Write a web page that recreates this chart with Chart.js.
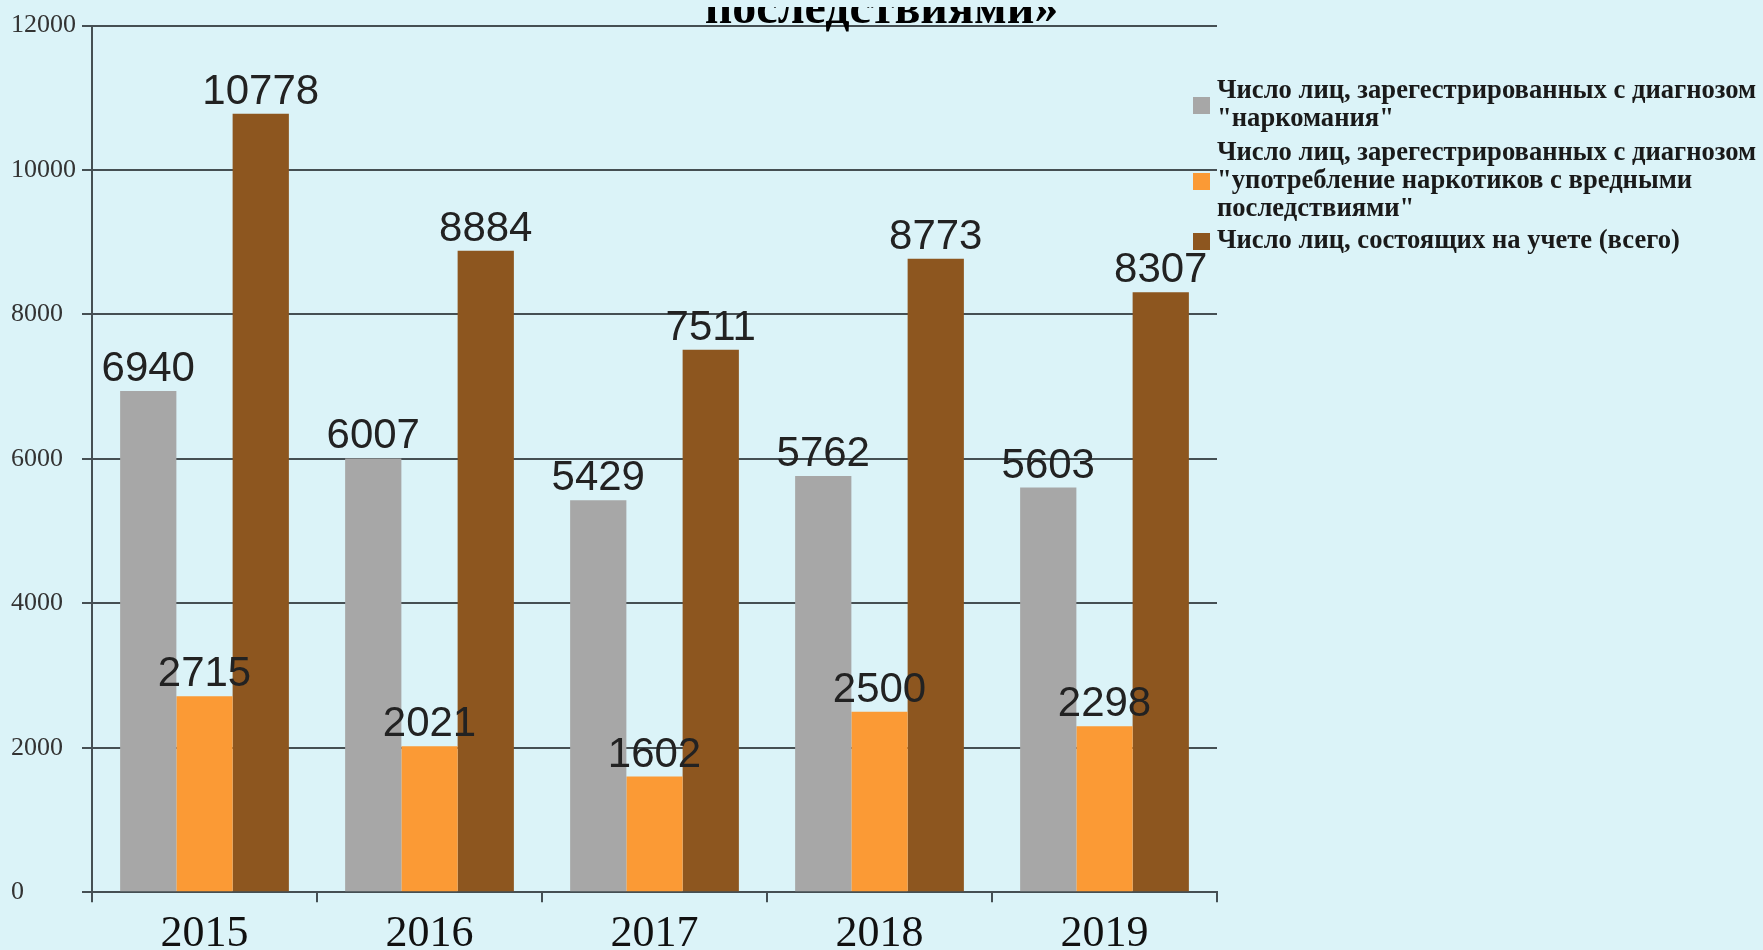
<!DOCTYPE html>
<html>
<head>
<meta charset="utf-8">
<script src="https://cdn.jsdelivr.net/npm/chart.js@4.4.1/dist/chart.umd.min.js"></script>
<style>
  html, body { margin: 0; padding: 0; background: #dbf3f8; overflow: hidden; }
  #wrap { position: absolute; left: 0; top: 7px; width: 1763px; height: 960px; }
</style>
</head>
<body>
<div id="wrap"><canvas id="main_chart"></canvas></div>
<script>
const years = ['2015', '2016', '2017', '2018', '2019'];
const addicts = [6940, 6007, 5429, 5762, 5603];
const harmfulUse = [2715, 2021, 1602, 2500, 2298];
const registeredTotal = [10778, 8884, 7511, 8773, 8307];
const yMin = 0;
const yMax = 12000;
const yStep = 2000;
const titleText = 'последствиями»';
const seriesNames = [
  ['Число лиц, зарегестрированных с диагнозом', '"наркомания"'],
  ['Число лиц, зарегестрированных с диагнозом', '"употребление наркотиков с вредными', 'последствиями"'],
  ['Число лиц, состоящих на учете (всего)']
];

const gridColor = '#454f53';

// numbers above every bar
const valueLabels = {
  id: 'valueLabels',
  afterDatasetsDraw(chart) {
    const ctx = chart.ctx;
    ctx.save();
    ctx.font = '42px "Liberation Sans", Arial, sans-serif';
    ctx.fillStyle = '#222';
    ctx.textAlign = 'center';
    ctx.textBaseline = 'alphabetic';
    chart.data.datasets.forEach((ds, i) => {
      chart.getDatasetMeta(i).data.forEach((bar, j) => {
        ctx.fillText(ds.data[j], bar.x, bar.y - 10);
      });
    });
    ctx.restore();
  }
};

// title line (the rest of it is cut off above the picture)
const topTitle = {
  id: 'topTitle',
  afterDraw(chart) {
    const ctx = chart.ctx;
    ctx.save();
    ctx.font = 'bold 48px "Liberation Serif", "Times New Roman", serif';
    ctx.fillStyle = '#000';
    ctx.textAlign = 'center';
    ctx.textBaseline = 'alphabetic';
    ctx.fillText(titleText, chart.width / 2, 16);
    ctx.restore();
  }
};

// legend on the right with wrapped labels
const sideLegend = {
  id: 'sideLegend',
  afterDraw(chart) {
    const ctx = chart.ctx;
    const centers = [98, 174, 234];
    const pitch = 28;
    ctx.save();
    ctx.font = 'bold 26.6px "Liberation Serif", "Times New Roman", serif';
    ctx.textBaseline = 'middle';
    ctx.textAlign = 'left';
    chart.data.datasets.forEach((ds, i) => {
      const lines = seriesNames[i];
      const cy = centers[i];
      ctx.fillStyle = ds.backgroundColor;
      ctx.fillRect(1193, cy - 8, 17, 17);
      ctx.fillStyle = '#1a1a1a';
      lines.forEach((line, k) => {
        ctx.fillText(line, 1217, cy + (k - (lines.length - 1) / 2) * pitch);
      });
    });
    ctx.restore();
  }
};

new Chart(document.getElementById('main_chart'), {
  type: 'bar',
  data: {
    labels: years,
    datasets: [
      { label: seriesNames[0].join(' '), data: addicts, backgroundColor: '#a7a7a7' },
      { label: seriesNames[1].join(' '), data: harmfulUse, backgroundColor: '#fb9a35' },
      { label: seriesNames[2].join(' '), data: registeredTotal, backgroundColor: '#8d561f' }
    ]
  },
  options: {
    responsive: true,
    maintainAspectRatio: false,
    animation: false,
    datasets: {
      bar: { barPercentage: 1.0, categoryPercentage: 0.75 }
    },
    layout: {
      padding: { top: 17, left: 11, right: 546, bottom: 0 }
    },
    scales: {
      x: {
        offset: true,
        border: { display: true, color: gridColor, width: 2 },
        grid: { display: true, drawOnChartArea: false, drawTicks: true, tickLength: 10, color: gridColor, lineWidth: 2 },
        ticks: {
          padding: 6,
          color: '#111',
          font: { family: '"Liberation Serif", "Times New Roman", serif', size: 44 }
        }
      },
      y: {
        min: yMin,
        max: yMax,
        border: { display: true, color: gridColor, width: 2 },
        grid: { color: gridColor, lineWidth: 2, tickLength: 10 },
        ticks: {
          stepSize: yStep,
          padding: 3,
          crossAlign: 'far',
          color: '#333',
          font: { family: '"Liberation Serif", "Times New Roman", serif', size: 26 },
          callback: (v) => String(v)
        }
      }
    },
    plugins: {
      legend: false,
      tooltip: { enabled: false }
    }
  },
  plugins: [valueLabels, topTitle, sideLegend]
});
</script>
</body>
</html>
